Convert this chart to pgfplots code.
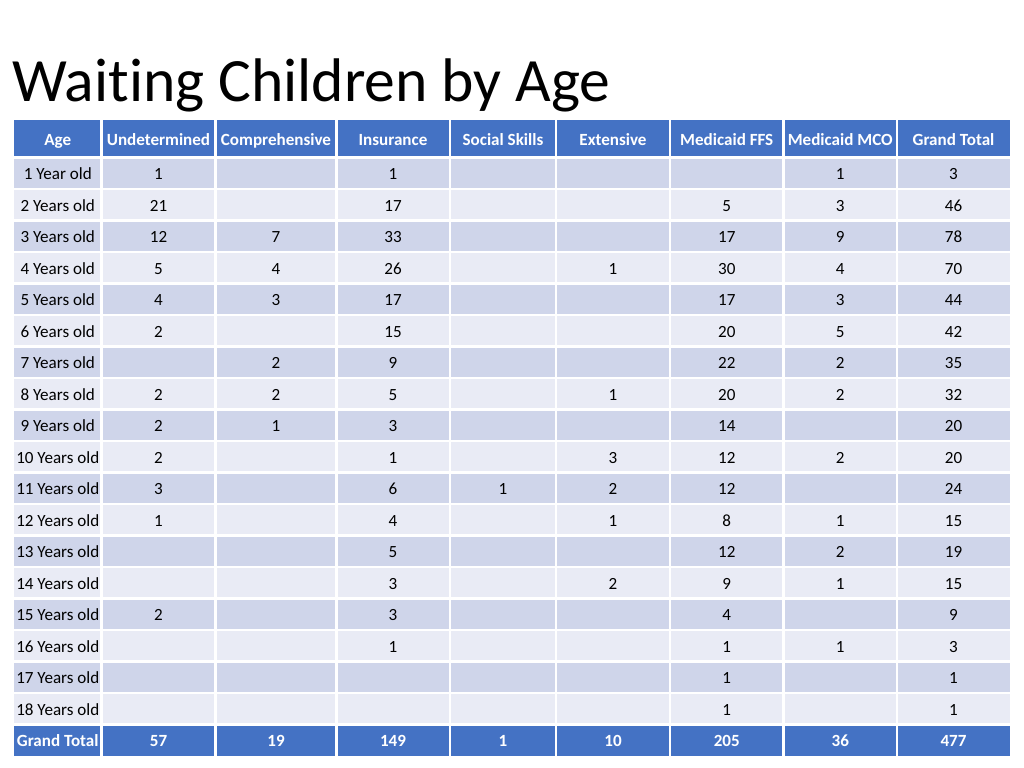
\documentclass[border=0pt]{standalone}
\usepackage{pgfplots}
\pgfplotsset{compat=1.18}
\usepackage{fontspec}
\setmainfont[Ligatures=NoCommon]{Carlito}
\definecolor{hdr}{HTML}{4472C4}
\definecolor{rowA}{HTML}{CFD5EA}
\definecolor{rowB}{HTML}{E9EBF5}
\begin{document}
\begin{tikzpicture}
\begin{axis}[
  width=720pt, height=540pt, scale only axis,
  xmin=0, xmax=1024, ymin=0, ymax=768, y dir=reverse,
  hide axis, clip=false,
  cell/.style={draw=none, mark=none, nodes near coords, point meta=explicit symbolic,
    every node near coord/.append style={anchor=center, font=\fontsize{12}{14}\selectfont,
      text=black, text height=0.64em, text depth=0pt, inner sep=0pt}},
  hcell/.style={cell, every node near coord/.append style={text=white, font=\fontsize{12}{14}\selectfont\bfseries}},
]
\path (axis cs:0,0) rectangle (axis cs:1024,768);
% backgrounds
\fill[hdr] (axis cs:14,120) rectangle (axis cs:1010,157.5);
\pgfplotsinvokeforeach{1,3,...,17}{\fill[rowA] (axis cs:14,{157.5+(#1-1)*31.5}) rectangle (axis cs:1010,{157.5+#1*31.5});}
\pgfplotsinvokeforeach{2,4,...,18}{\fill[rowB] (axis cs:14,{157.5+(#1-1)*31.5}) rectangle (axis cs:1010,{157.5+#1*31.5});}
\fill[hdr] (axis cs:14,724.5) rectangle (axis cs:1010,756);
\pgfplotsinvokeforeach{101.5,215.5,336.5,450,556,670,783.5,897}{\draw[white, line width=1.7pt] (axis cs:#1,120) -- (axis cs:#1,756);}
\pgfplotsinvokeforeach{1,...,19}{\draw[white, line width=1.7pt] (axis cs:14,{157.5+(#1-1)*31.5}) -- (axis cs:1010,{157.5+(#1-1)*31.5});}

\node[anchor=base west, font=\fontsize{43.3}{50}\selectfont, inner sep=0pt] at (axis cs:12,102) {Waiting Children by Age};

% header
\addplot[hcell] table[col sep=comma, row sep=\\, x=x, y expr=140.5, meta=v] {
x,v\\ 57.75,Age\\ 158.5,Undetermined\\ 276,Comprehensive\\ 393,Insurance\\ 503,Social Skills\\
613,Extensive\\ 726.75,Medicaid FFS\\ 840.25,Medicaid MCO\\ 953.5,Grand Total\\};

% age labels
\addplot[cell] table[col sep=comma, row sep=\\, x expr=57.75, y expr={159.5+(\thisrow{r}-0.5)*31.5}, meta=v] {
r,v\\ 1,1 Year old\\ 2,2 Years old\\ 3,3 Years old\\ 4,4 Years old\\ 5,5 Years old\\ 6,6 Years old\\
7,7 Years old\\ 8,8 Years old\\ 9,9 Years old\\ 10,10 Years old\\ 11,11 Years old\\ 12,12 Years old\\
13,13 Years old\\ 14,14 Years old\\ 15,15 Years old\\ 16,16 Years old\\ 17,17 Years old\\ 18,18 Years old\\};

% Undetermined
\addplot[cell] table[row sep=\\, x expr=158.5, y expr={159.5+(\thisrow{r}-0.5)*31.5}, meta=v] {
r v\\ 1 1\\ 2 21\\ 3 12\\ 4 5\\ 5 4\\ 6 2\\ 8 2\\ 9 2\\ 10 2\\ 11 3\\ 12 1\\ 15 2\\};
% Comprehensive
\addplot[cell] table[row sep=\\, x expr=276, y expr={159.5+(\thisrow{r}-0.5)*31.5}, meta=v] {
r v\\ 3 7\\ 4 4\\ 5 3\\ 7 2\\ 8 2\\ 9 1\\};
% Insurance
\addplot[cell] table[row sep=\\, x expr=393, y expr={159.5+(\thisrow{r}-0.5)*31.5}, meta=v] {
r v\\ 1 1\\ 2 17\\ 3 33\\ 4 26\\ 5 17\\ 6 15\\ 7 9\\ 8 5\\ 9 3\\ 10 1\\ 11 6\\ 12 4\\ 13 5\\ 14 3\\ 15 3\\ 16 1\\};
% Social Skills
\addplot[cell] table[row sep=\\, x expr=503, y expr={159.5+(\thisrow{r}-0.5)*31.5}, meta=v] {
r v\\ 11 1\\};
% Extensive
\addplot[cell] table[row sep=\\, x expr=613, y expr={159.5+(\thisrow{r}-0.5)*31.5}, meta=v] {
r v\\ 4 1\\ 8 1\\ 10 3\\ 11 2\\ 12 1\\ 14 2\\};
% Medicaid FFS
\addplot[cell] table[row sep=\\, x expr=726.75, y expr={159.5+(\thisrow{r}-0.5)*31.5}, meta=v] {
r v\\ 2 5\\ 3 17\\ 4 30\\ 5 17\\ 6 20\\ 7 22\\ 8 20\\ 9 14\\ 10 12\\ 11 12\\ 12 8\\ 13 12\\ 14 9\\ 15 4\\ 16 1\\ 17 1\\ 18 1\\};
% Medicaid MCO
\addplot[cell] table[row sep=\\, x expr=840.25, y expr={159.5+(\thisrow{r}-0.5)*31.5}, meta=v] {
r v\\ 1 1\\ 2 3\\ 3 9\\ 4 4\\ 5 3\\ 6 5\\ 7 2\\ 8 2\\ 10 2\\ 12 1\\ 13 2\\ 14 1\\ 16 1\\};
% Grand Total
\addplot[cell] table[row sep=\\, x expr=953.5, y expr={159.5+(\thisrow{r}-0.5)*31.5}, meta=v] {
r v\\ 1 3\\ 2 46\\ 3 78\\ 4 70\\ 5 44\\ 6 42\\ 7 35\\ 8 32\\ 9 20\\ 10 20\\ 11 24\\ 12 15\\ 13 19\\ 14 15\\ 15 9\\ 16 3\\ 17 1\\ 18 1\\};

% Grand Total row
\addplot[hcell] table[col sep=comma, row sep=\\, x=x, y expr=742, meta=v] {
x,v\\ 57.75,Grand Total\\ 158.5,57\\ 276,19\\ 393,149\\ 503,1\\ 613,10\\ 726.75,205\\ 840.25,36\\ 953.5,477\\};
\end{axis}
\end{tikzpicture}
\end{document}
